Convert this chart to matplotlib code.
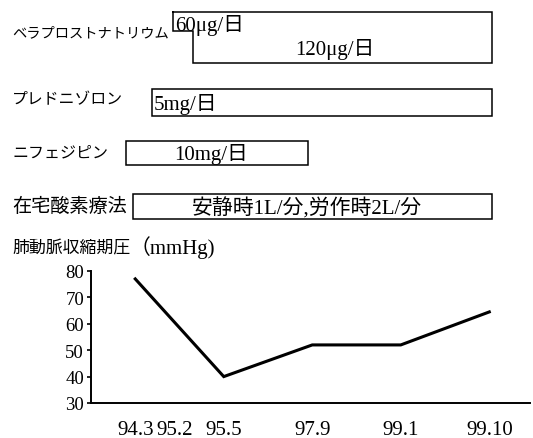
import matplotlib
matplotlib.use("Agg")
import matplotlib.pyplot as plt
from matplotlib.patches import Rectangle

# time points on the common axis (arbitrary timeline units)
dates = ["94.3", "95.2", "95.5", "97.9", "99.1", "99.10"]
date_pos = [0.0, 0.45, 1.0, 2.0, 3.0, 4.0]

# pulmonary artery systolic pressure (mmHg)
pap_dates = ["94.3", "95.5", "97.9", "99.1", "99.10"]
pap_values = [77, 40, 52, 52, 64.5]

# treatments: name, start, end (timeline units), dose text
drug_names = ["ベラプロストナトリウム", "プレドニゾロン", "ニフェジピン", "在宅酸素療法"]
drug_starts = [0.43, 0.19, -0.10, -0.02]
drug_ends = [4.03, 4.03, 1.95, 4.03]
drug_doses = ["60μg/日", "5mg/日", "10mg/日", "安静時1L/分,労作時2L/分"]
# beraprost dose increase
bera_step_start = 0.655
bera_step_dose = "120μg/日"

serif_jp = ["Liberation Serif", "Noto Sans CJK JP"]
W, H = 533, 439

fig = plt.figure(figsize=(W / 100, H / 100), dpi=100)

# ---- timeline of treatments (y in pixel rows, top down) ----
axt = fig.add_axes([0, (H - 230) / H, 1, 230 / H])
axt.set_xlim((0 - 135) / 88.5, (W - 135) / 88.5)
axt.set_ylim(230, 0)
axt.axis("off")

row_top = [12.5, 90, 142, 195]
row_bot = [63.5, 117, 166, 220]
label_y = [33, 100, 153, 206]
label_size = [10.3, 11.4, 11.5, 13.8]
label_x = (12 - 135) / 88.5
box_lw = 1.1

for i, name in enumerate(drug_names):
    axt.text(label_x, label_y[i], name, fontsize=label_size[i], va="center", ha="left",
             family="Noto Sans CJK JP")

# beraprost: stepped outline (60 -> 120 ug)
s0, s1, e = drug_starts[0], bera_step_start, drug_ends[0]
mid = 32
axt.plot([s0, e, e, s1, s1, s0, s0], [row_top[0], row_top[0], row_bot[0], row_bot[0], mid, mid, row_top[0]],
         color="black", lw=box_lw, solid_joinstyle="miter")
axt.text(s0 + 0.02, 25, drug_doses[0], fontsize=15, va="center", ha="left", family=serif_jp)
axt.text((s1 + e) / 2 - 0.08, 49, bera_step_dose, fontsize=15, va="center", ha="center", family=serif_jp)

for i in range(1, 4):
    axt.add_patch(Rectangle((drug_starts[i], row_top[i]), drug_ends[i] - drug_starts[i],
                            row_bot[i] - row_top[i], fill=False, edgecolor="black", lw=box_lw))
    yc = (row_top[i] + row_bot[i]) / 2 + 1
    if i == 1:
        axt.text(drug_starts[i] + 0.02, yc, drug_doses[i], fontsize=15, va="center", ha="left",
                 family=serif_jp)
    else:
        xc = (drug_starts[i] + drug_ends[i]) / 2 - 0.06
        axt.text(xc, yc, drug_doses[i], fontsize=15, va="center", ha="center", family=serif_jp)

# y-axis title (kanji part and unit part)
axt.text(label_x, 248, "肺動脈収縮期圧", fontsize=12.2, va="center", ha="left", family="Noto Sans CJK JP")
axt.text((130 - 135) / 88.5, 248, "（mmHg)", fontsize=15, va="center", ha="left", family=serif_jp)

# ---- pressure chart ----
ax = fig.add_axes([91 / W, (H - 404) / H, (530 - 91) / W, (404 - 272) / H])
pos = dict(zip(dates, date_pos))
ax.plot([pos[d] for d in pap_dates], pap_values, color="black", lw=2.2, solid_joinstyle="miter")
ax.set_xlim(-0.5, 4.46)
ax.set_ylim(30, 80)
ax.set_xticks(date_pos)
ax.set_xticklabels(dates)
ax.set_yticks([30, 40, 50, 60, 70, 80])
for sp in ["top", "right"]:
    ax.spines[sp].set_visible(False)
ax.spines["left"].set_linewidth(1.4)
ax.spines["bottom"].set_linewidth(1.4)
ax.tick_params(axis="x", length=0, pad=12)
ax.tick_params(axis="y", length=3, width=1.2, pad=2)
for lab in ax.get_xticklabels():
    lab.set_family(serif_jp)
    lab.set_fontsize(15)
for lab in ax.get_yticklabels():
    lab.set_family(serif_jp)
    lab.set_fontsize(13.5)

fig.savefig("out.png", dpi=100)
